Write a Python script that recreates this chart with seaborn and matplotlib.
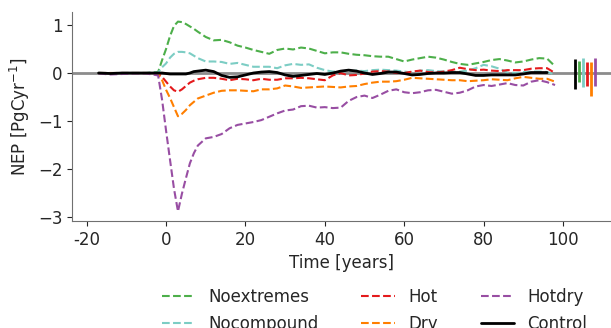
import numpy as np
import pandas as pd
import matplotlib
matplotlib.use("Agg")
import matplotlib.pyplot as plt
import seaborn as sns

sns.set_style("ticks")
plt.rcParams["font.family"] = ["DejaVu Sans"]
plt.rcParams["font.size"] = 12

# time axis (years relative to the event)
time = [-17, -14, -11, -8, -5, -2,
        -1, 0, 1, 2, 3, 4, 5, 6, 7, 8,
        10, 12, 14, 16, 18, 20, 22, 24, 26,
        28, 30, 32, 34, 36, 38, 40, 42, 44,
        46, 48, 50, 52, 54, 56, 58, 60, 62,
        64, 66, 68, 70, 72, 74, 76, 78, 80,
        82, 84, 86, 88, 90, 92, 94, 96, 98]

noextremes = [0.0, 0.0, 0.0, 0.0, 0.0, 0.02,
              0.27, 0.50, 0.77, 0.98, 1.07, 1.06, 1.02, 0.97, 0.92, 0.86,
              0.75, 0.68, 0.69, 0.64, 0.57, 0.53, 0.48, 0.44, 0.40,
              0.48, 0.51, 0.49, 0.53, 0.51, 0.46, 0.41, 0.43, 0.43,
              0.40, 0.38, 0.37, 0.35, 0.34, 0.34, 0.29, 0.24, 0.28,
              0.31, 0.34, 0.32, 0.28, 0.23, 0.19, 0.17, 0.20, 0.23,
              0.27, 0.29, 0.26, 0.22, 0.24, 0.28, 0.31, 0.30, 0.14]

nocompound = [0.0, 0.0, 0.0, 0.0, 0.0, 0.01,
              0.12, 0.20, 0.32, 0.40, 0.44, 0.44, 0.43, 0.41, 0.36, 0.31,
              0.24, 0.24, 0.23, 0.19, 0.21, 0.17, 0.13, 0.13, 0.13,
              0.10, 0.16, 0.19, 0.17, 0.18, 0.11, 0.06, 0.03, 0.03,
              0.04, 0.05, 0.04, 0.06, 0.07, 0.06, 0.05, 0.03, 0.01,
              0.05, 0.06, 0.04, 0.03, 0.02, 0.03, 0.05, 0.10, 0.17,
              0.14, 0.09, 0.01, 0.00, 0.02, 0.03, 0.03, 0.02, -0.03]

hot = [0.0, 0.0, 0.0, 0.0, 0.0, -0.01,
       -0.08, -0.18, -0.28, -0.36, -0.39, -0.34, -0.27, -0.20, -0.16, -0.13,
       -0.10, -0.10, -0.12, -0.15, -0.12, -0.13, -0.15, -0.12, -0.14,
       -0.14, -0.11, -0.11, -0.10, -0.11, -0.13, -0.15, -0.05, 0.00,
       -0.05, -0.04, -0.01, 0.03, 0.04, 0.03, 0.00, 0.00, 0.03,
       0.05, 0.02, 0.01, 0.03, 0.06, 0.11, 0.08, 0.06, 0.07,
       0.05, 0.04, 0.06, 0.06, 0.06, 0.09, 0.10, 0.10, 0.00]

dry = [0.0, 0.0, 0.0, 0.0, 0.0, -0.02,
       -0.15, -0.35, -0.52, -0.71, -0.90, -0.85, -0.77, -0.67, -0.60, -0.53,
       -0.47, -0.41, -0.37, -0.36, -0.36, -0.37, -0.38, -0.34, -0.34,
       -0.32, -0.26, -0.28, -0.31, -0.30, -0.29, -0.28, -0.29, -0.30,
       -0.28, -0.27, -0.23, -0.20, -0.18, -0.18, -0.17, -0.14, -0.10,
       -0.11, -0.12, -0.13, -0.14, -0.15, -0.15, -0.17, -0.16, -0.15,
       -0.13, -0.14, -0.15, -0.11, -0.08, -0.10, -0.12, -0.12, -0.18]

hotdry = [-0.01, -0.03, -0.02, -0.01, -0.01, -0.05,
          -0.56, -1.20, -1.81, -2.41, -2.88, -2.51, -2.19, -1.88, -1.67, -1.51,
          -1.36, -1.33, -1.27, -1.15, -1.08, -1.05, -1.02, -0.98, -0.91,
          -0.84, -0.78, -0.76, -0.69, -0.68, -0.72, -0.71, -0.73, -0.72,
          -0.58, -0.50, -0.47, -0.52, -0.45, -0.37, -0.34, -0.40, -0.42,
          -0.40, -0.36, -0.35, -0.39, -0.43, -0.41, -0.36, -0.28, -0.25,
          -0.27, -0.24, -0.21, -0.25, -0.26, -0.18, -0.15, -0.19, -0.25]

control = [0.0, -0.01, 0.0, 0.0, 0.0, 0.0,
           0.0, -0.01, -0.02, -0.02, -0.02, -0.02, -0.02, 0.0, 0.03, 0.04,
           0.06, 0.03, -0.05, -0.09, -0.08, -0.04, 0.0, 0.02, 0.03,
           0.01, -0.04, -0.07, -0.05, -0.03, -0.01, -0.03, 0.0, 0.04,
           0.06, 0.04, 0.0, -0.03, -0.01, 0.02, 0.02, -0.01, -0.04,
           -0.03, -0.01, 0.0, 0.0, 0.01, 0.01, -0.02, -0.05, -0.05,
           -0.04, -0.04, -0.04, -0.04, -0.02, 0.01, 0.01, 0.01, np.nan]

# spread of each experiment (drawn as bars on the right)
spread_names = ["Control", "Noextremes", "Nocompound", "Hot", "Dry", "Hotdry"]
spread_low = [-0.33, -0.19, -0.29, -0.27, -0.48, -0.27]
spread_high = [0.29, 0.25, 0.31, 0.23, 0.23, 0.31]

order = ["Noextremes", "Nocompound", "Hot", "Dry", "Hotdry", "Control"]
colors = {
    "Noextremes": "#4daf4a",
    "Nocompound": "#7ccdc4",
    "Hot": "#e41a1c",
    "Dry": "#ff7f00",
    "Hotdry": "#984ea3",
    "Control": "black",
}

df = pd.DataFrame({
    "time": time,
    "Noextremes": noextremes,
    "Nocompound": nocompound,
    "Hot": hot,
    "Dry": dry,
    "Hotdry": hotdry,
    "Control": control,
}).melt(id_vars="time", var_name="scenario", value_name="nep").dropna()

fig = plt.figure(figsize=(6.11, 3.28), dpi=100)
ax = fig.add_axes([72 / 611, 107 / 328, 1 - 72 / 611, 209 / 328])

ax.axhline(0, color="#8c8c8c", lw=2, zorder=1)

dashes = {k: (3.7, 1.6) for k in order}
dashes["Control"] = ""
sizes = {k: 1.5 for k in order}
sizes["Control"] = 2.0
sns.lineplot(data=df, x="time", y="nep", hue="scenario", style="scenario",
             size="scenario", hue_order=order, style_order=order, size_order=order,
             palette=colors, dashes=dashes, sizes=sizes, ax=ax, zorder=3)

for i, name in enumerate(spread_names):
    ax.vlines(103 + i, spread_low[i], spread_high[i], color=colors[name], lw=2)

ax.set_xlim(-23.7, 112.1)
ax.set_ylim(-3.08, 1.27)
ax.set_xticks([-20, 0, 20, 40, 60, 80, 100])
ax.set_xticklabels(["-20", "0", "20", "40", "60", "80", "100"])
ax.set_yticks([-3, -2, -1, 0, 1])
ax.set_xlabel("Time [years]")
ax.set_ylabel(r"NEP [PgCyr$^{-1}$]")
sns.despine(ax=ax)
for s in ["left", "bottom"]:
    ax.spines[s].set_color("#707070")

sns.move_legend(ax, "upper left", bbox_to_anchor=(0.240, 0.167),
                bbox_transform=fig.transFigure, ncol=3, frameon=False,
                title=None, columnspacing=2.57)

fig.savefig("out.png", dpi=100)
